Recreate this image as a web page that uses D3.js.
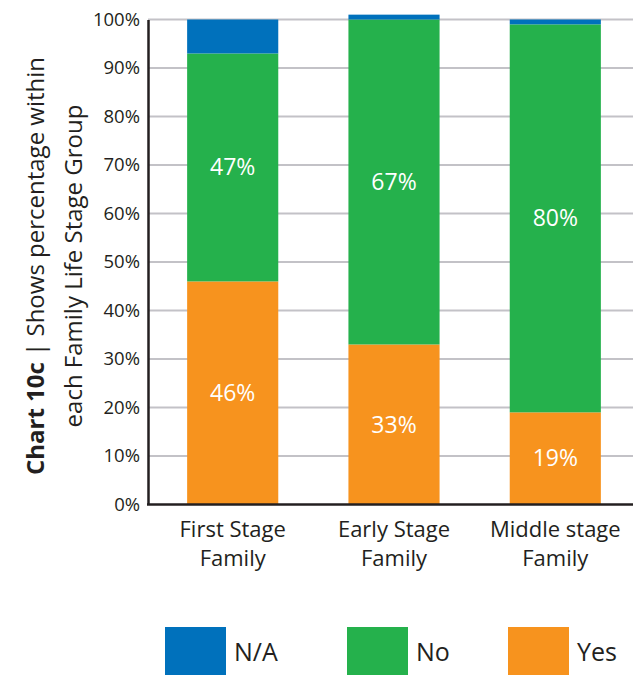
<!DOCTYPE html>
<html>
<head>
<meta charset="utf-8">
<script src="https://cdn.jsdelivr.net/npm/d3@7"></script>
<style>
  body { margin: 0; background: #fff; }
  text { font-family: "Open Sans", sans-serif; fill: #231f20; }
</style>
</head>
<body>
<div id="container"></div>
<script>
// data
const groups = [["First Stage", "Family"], ["Early Stage", "Family"], ["Middle stage", "Family"]];
const yes = [46, 33, 19];
const no = [47, 67, 80];
const na = [7, 1, 1];
const seriesNames = ["N/A", "No", "Yes"];
const yTicks = [0, 10, 20, 30, 40, 50, 60, 70, 80, 90, 100];

const width = 639, height = 675;
const colors = { "Yes": "#f7931e", "No": "#25b14c", "N/A": "#0071bc" };

const svg = d3.select('#container')
    .append('svg')
    .attr('width', width)
    .attr('height', height);

const x = d3.scaleBand()
    .domain(d3.range(groups.length))
    .range([151, 637])
    .paddingInner(0.435)
    .paddingOuter(0.224);

const y = d3.scaleLinear()
    .domain([0, 100])
    .range([504.5, 19.5]);

// gridlines
svg.append('g')
    .selectAll('line')
    .data(yTicks.filter(t => t > 0))
    .enter()
    .append('line')
    .attr('x1', 148)
    .attr('x2', 633)
    .attr('y1', d => y(d))
    .attr('y2', d => y(d))
    .attr('stroke', '#c3c2c7')
    .attr('stroke-width', 2);

// stacked segments (Yes at the bottom, then No, then N/A)
const rows = groups.map((g, i) => ({ i, "Yes": yes[i], "No": no[i], "N/A": na[i] }));
const stack = d3.stack().keys(["Yes", "No", "N/A"]);
const layers = stack(rows);

svg.append('g')
    .selectAll('g')
    .data(layers)
    .enter()
    .append('g')
    .attr('fill', d => colors[d.key])
    .selectAll('rect')
    .data(d => d)
    .enter()
    .append('rect')
    .attr('x', d => x(d.data.i))
    .attr('width', x.bandwidth())
    .attr('y', d => y(d[1]))
    .attr('height', d => y(d[0]) - y(d[1]));

// value labels inside Yes and No
layers.filter(l => l.key !== "N/A").forEach(l => {
    svg.append('g')
        .selectAll('text')
        .data(l)
        .enter()
        .append('text')
        .attr('x', d => x(d.data.i) + x.bandwidth() / 2)
        .attr('y', d => y((d[0] + d[1]) / 2))
        .attr('dy', '0.35em')
        .attr('text-anchor', 'middle')
        .attr('font-size', 23)
        .style('fill', '#fff')
        .text(d => d.data[l.key] + '%');
});

// y axis
const yAxis = svg.append('g')
    .attr('transform', 'translate(148,0)')
    .call(d3.axisLeft(y).tickValues(yTicks).tickSize(0).tickPadding(8).tickFormat(d => d + '%'));
yAxis.select('.domain').attr('stroke', '#231f20').attr('stroke-width', 2.5);
yAxis.selectAll('text').attr('font-size', 18.5).attr('font-family', '"Open Sans", sans-serif').style('fill', '#231f20');

// x axis line
svg.append('line')
    .attr('x1', 147)
    .attr('x2', 633)
    .attr('y1', y(0))
    .attr('y2', y(0))
    .attr('stroke', '#231f20')
    .attr('stroke-width', 2.5);

// category labels
const xl = svg.append('g')
    .selectAll('text')
    .data(groups)
    .enter()
    .append('text')
    .attr('x', (d, i) => x(i) + x.bandwidth() / 2)
    .attr('y', 537)
    .attr('text-anchor', 'middle')
    .attr('font-size', 22);
xl.selectAll('tspan')
    .data(d => d)
    .enter()
    .append('tspan')
    .attr('x', function () { return this.parentNode.getAttribute('x'); })
    .attr('dy', (d, j) => j === 0 ? 0 : 29)
    .text(d => d);

// y title
const title = svg.append('text')
    .attr('transform', 'translate(0,266) rotate(-90)')
    .attr('text-anchor', 'middle')
    .attr('font-size', 24);
const t1 = title.append('tspan').attr('x', 0).attr('y', 44);
t1.append('tspan').attr('font-weight', 'bold').text('Chart 10c');
t1.append('tspan').text('  |  Shows percentage within');
title.append('tspan').attr('x', 0).attr('y', 82).text('each Family Life Stage Group');

// legend
const legendX = [165, 347, 508];
const legend = svg.append('g')
    .selectAll('g')
    .data(seriesNames)
    .enter()
    .append('g')
    .attr('transform', (d, i) => `translate(${legendX[i]},627)`);
legend.append('rect')
    .attr('width', 61)
    .attr('height', 48)
    .attr('fill', d => colors[d]);
legend.append('text')
    .attr('x', 69)
    .attr('y', 34)
    .attr('font-size', 25)
    .text(d => d);
</script>
</body>
</html>
